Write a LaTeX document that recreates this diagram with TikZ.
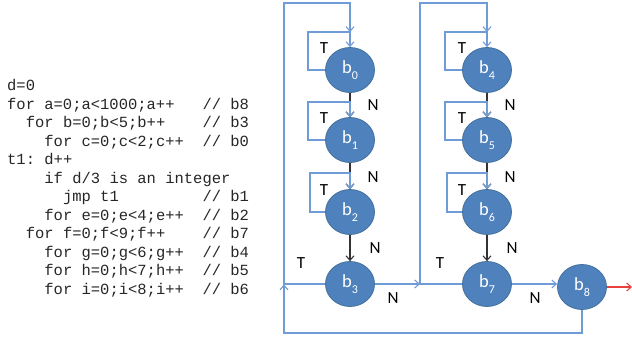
\documentclass[tikz,border=0pt]{standalone}
\usepackage{fontspec}
\setmainfont{Carlito}
\newfontfamily\codefont{Liberation Mono}
\usetikzlibrary{arrows.meta,shapes.geometric}
\definecolor{nodefill}{HTML}{4F81BD}
\definecolor{nodeborder}{HTML}{41719C}
\definecolor{linkblue}{HTML}{6F9BD6}
\definecolor{nedge}{HTML}{333333}
\definecolor{exitred}{HTML}{E8413C}
\newcommand\bsub[1]{b\raisebox{-0.3em}{\fontsize{12}{12}\selectfont #1}}
\begin{document}
\begin{tikzpicture}[x=1pt,y=-1pt,
  blk/.style={ellipse,draw=nodeborder,line width=0.8pt,fill=nodefill,minimum width=49pt,minimum height=45pt,inner sep=0pt,text=white,font=\fontsize{18.5}{18.5}\selectfont},
  codeline/.style={anchor=base west,inner sep=0pt,font=\codefont\fontsize{15.5}{18.5}\selectfont,text=black!85},
  lbl/.style={inner sep=0pt,font=\fontsize{17}{17}\selectfont},
  tip/.style={-{Straight Barb[length=4.5pt,width=8pt]}},
  bl/.style={draw=linkblue,line width=1.1pt,tip},
  nl/.style={draw=nedge,line width=1.1pt,tip}]
\useasboundingbox (0,0) rectangle (632,339);

% code listing
\node[codeline] (l0) at (7,91) {d=0};
\node[codeline] (l1) at (7,109.5) {for a=0;a<1000;a++};
\node[codeline] (c1) at (202.3,109.5) {// b8};
\node[codeline] (l2) at (25.6,128) {for b=0;b<5;b++};
\node[codeline] (c2) at (202.3,128) {// b3};
\node[codeline] (l3) at (44.2,146.5) {for c=0;c<2;c++};
\node[codeline] (c3) at (202.3,146.5) {// b0};
\node[codeline] (l4) at (7,165) {t1:};
\node[codeline] (l4b) at (44.2,165) {d++};
\node[codeline] (l5) at (44.2,183.5) {if d/3 is an integer};
\node[codeline] (l6) at (62.8,202) {jmp t1};
\node[codeline] (c6) at (202.3,202) {// b1};
\node[codeline] (l7) at (44.2,220.5) {for e=0;e<4;e++};
\node[codeline] (c7) at (202.3,220.5) {// b2};
\node[codeline] (l8) at (25.6,239) {for f=0;f<9;f++};
\node[codeline] (c8) at (202.3,239) {// b7};
\node[codeline] (l9) at (44.2,257.5) {for g=0;g<6;g++};
\node[codeline] (c9) at (202.3,257.5) {// b4};
\node[codeline] (l10) at (44.2,276) {for h=0;h<7;h++};
\node[codeline] (c10) at (202.3,276) {// b5};
\node[codeline] (l11) at (44.2,294.5) {for i=0;i<8;i++};
\node[codeline] (c11) at (202.3,294.5) {// b6};

% blocks
\node[blk] (b0) at (350,70) {\bsub{0}};
\node[blk] (b1) at (350,140) {\bsub{1}};
\node[blk] (b2) at (350,212) {\bsub{2}};
\node[blk] (b3) at (350,284) {\bsub{3}};
\node[blk] (b4) at (487,70) {\bsub{4}};
\node[blk] (b5) at (487,140) {\bsub{5}};
\node[blk] (b6) at (487,212) {\bsub{6}};
\node[blk] (b7) at (487,284) {\bsub{7}};
\node[blk] (b8) at (582,287) {\bsub{8}};

% coordinates
\coordinate (j1) at (284,284.5);
\coordinate (j2) at (420,284);
\coordinate (out) at (632,287);
\coordinate (top0) at (350,32);
\coordinate (top4) at (487,32);

% N edges
\draw[nl] (b0) -- (b1);
\draw[nl] (b1) -- (b2);
\draw[nl] (b2) -- (b3);
\draw[nl] (b4) -- (b5);
\draw[nl] (b5) -- (b6);
\draw[nl] (b6) -- (b7);

% self loops
\foreach \n/\lx/\ty in {b0/308/32,b1/308/102,b2/310/173,b4/445/32,b5/445/102,b6/447/173}{
  \draw[bl] (\n.west) -| (\lx,\ty) -| (\n.north);
}

% outer loops
\draw[bl] (b3.west) -- (284,284) -- (284,3) -| (top0);
\draw[bl] (b3.east) -- (j2);
\draw[bl] (b7.west) -- (j2) -- (420,3) -| (top4);
\draw[bl] (b7.east) -- (b8.west |- b7.east);
\draw[bl] (b8.south) |- (284,333) -- (j1);
\draw[draw=exitred,line width=1.1pt,tip] (b8.east) -- (out);

% labels
\node[lbl] (t0) at (324,48) {T};
\node[lbl] (t1) at (324,118) {T};
\node[lbl] (t2) at (324,190) {T};
\node[lbl] (t4) at (462,48) {T};
\node[lbl] (t5) at (462,118) {T};
\node[lbl] (t6) at (462,190) {T};
\node[lbl] (t3) at (301,263) {T};
\node[lbl] (t7) at (440,263) {T};
\node[lbl] (n0) at (373,105) {N};
\node[lbl] (n1) at (373,177) {N};
\node[lbl] (n2) at (375,248) {N};
\node[lbl] (n3) at (393,298) {N};
\node[lbl] (n4) at (510,105) {N};
\node[lbl] (n5) at (510,177) {N};
\node[lbl] (n6) at (512,248) {N};
\node[lbl] (n7) at (535,298) {N};
\end{tikzpicture}
\end{document}
